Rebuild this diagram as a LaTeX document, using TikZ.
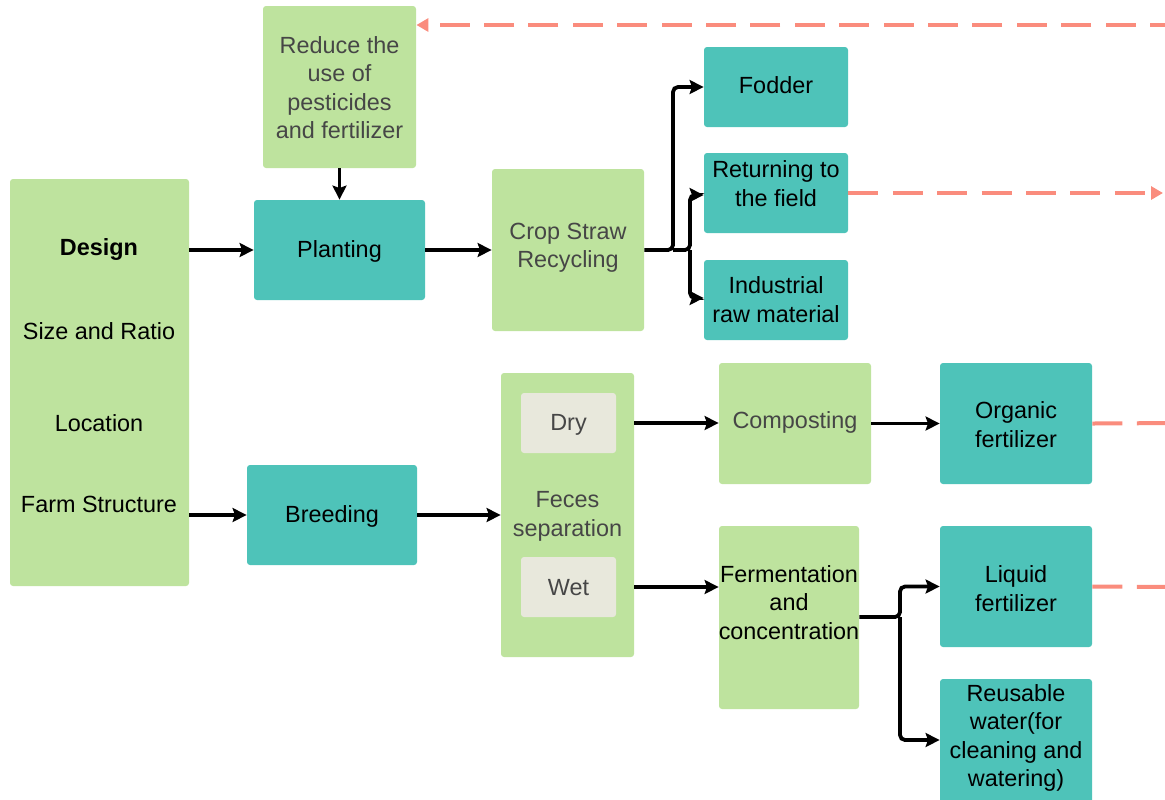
\documentclass[tikz,border=0pt]{standalone}
\usepackage{fontspec}
\setmainfont{Liberation Sans}
\usetikzlibrary{arrows.meta}
\definecolor{leaf}{RGB}{190,227,158}
\definecolor{teal2}{RGB}{78,195,185}
\definecolor{paper}{RGB}{232,232,220}
\definecolor{salmon}{RGB}{250,140,125}
\definecolor{ink}{RGB}{70,70,70}
\begin{document}
\begin{tikzpicture}[x=0.5pt,y=-0.5pt,
  box/.style={rounded corners=1.5pt, inner sep=0pt, draw=none},
  greenbox/.style={box, fill=leaf},
  tealbox/.style={box, fill=teal2},
  innerbox/.style={box, fill=paper},
  lbl/.style={align=center, inner sep=0pt, yshift=-1.25pt, font=\fontsize{11.7}{14.2}\selectfont},
  glbl/.style={lbl, text=ink},
  arr/.style={line width=1.9pt, -{Stealth[length=7pt,width=7pt,inset=1.2pt]}, rounded corners=2.5pt},
  feed/.style={line width=2pt, draw=salmon, dash pattern=on 15pt off 7.2pt,
    -{Triangle[length=6pt,width=6.5pt]}}
]
\useasboundingbox (0,0) rectangle (1165,799);
\clip (0,0) rectangle (1165,799);

% --- boxes ---
\node[greenbox, minimum width=89.5pt, minimum height=203.5pt] (design) at (99.5,382.5) {};
\node[greenbox, minimum width=76.5pt, minimum height=81pt] (reduce) at (339.5,87) {};
\node[tealbox, minimum width=85.5pt, minimum height=50pt] (planting) at (339.5,250) {};
\node[greenbox, minimum width=76pt, minimum height=81pt] (crop) at (568,250) {};
\node[tealbox, minimum width=72pt, minimum height=40pt] (fodder) at (776,87) {};
\node[tealbox, minimum width=72pt, minimum height=40pt] (returning) at (776,193) {};
\node[tealbox, minimum width=72pt, minimum height=40pt] (industrial) at (776,300) {};
\node[tealbox, minimum width=85pt, minimum height=50pt] (breeding) at (332,515) {};
\node[greenbox, minimum width=66.5pt, minimum height=142pt] (feces) at (567.5,515) {};
\node[innerbox, minimum width=47.5pt, minimum height=30pt] (dry) at (568.5,423) {};
\node[innerbox, minimum width=47.5pt, minimum height=30pt] (wet) at (568.5,587) {};
\node[greenbox, minimum width=76pt, minimum height=60.5pt] (composting) at (795,423.5) {};
\node[tealbox, minimum width=76pt, minimum height=60.5pt] (organic) at (1016,423.5) {};
\node[greenbox, minimum width=70pt, minimum height=91.5pt] (ferment) at (789,617.5) {};
\node[tealbox, minimum width=76pt, minimum height=60.5pt] (liquid) at (1016,586.5) {};
\node[tealbox, minimum width=76pt, minimum height=70.5pt] (reusable) at (1016,749.5) {};

% --- texts ---
\node[lbl, font=\fontsize{11.7}{14.2}\selectfont\bfseries] (designT) at (99,247) {Design};
\node[lbl] (sizeT) at (99,329) {Size and Ratio};
\node[lbl] (locT) at (99,421) {Location};
\node[lbl] (farmT) at (99,502) {Farm Structure};
\node[glbl] (reduceT) at (339.5,85) {Reduce the\\use of\\pesticides\\and fertilizer};
\node[lbl] (plantingT) at (339.5,249) {Planting};
\node[glbl] (cropT) at (568,245) {Crop Straw\\Recycling};
\node[lbl] (fodderT) at (776,83) {Fodder};
\node[lbl] (returningT) at (776,181) {Returning to\\the field};
\node[lbl] (industrialT) at (776,297) {Industrial\\raw material};
\node[lbl] (breedingT) at (332,514) {Breeding};
\node[glbl] (dryT) at (568.5,422) {Dry};
\node[glbl] (fecesT) at (567.5,514) {Feces\\separation};
\node[glbl] (wetT) at (568.5,585) {Wet};
\node[glbl] (compostingT) at (795,420) {Composting};
\node[lbl] (organicT) at (1016,422) {Organic\\fertilizer};
\node[lbl] (fermentT) at (789,600) {Fermentation\\and\\concentration};
\node[lbl] (liquidT) at (1016,586) {Liquid\\fertilizer};
\node[lbl] (reusableT) at (1016,735.5) {Reusable\\water(for\\cleaning and\\watering)};

% --- solid flow ---
\draw[arr] (reduce.south) -- (planting.north);
\draw[arr] (planting -| design.east) -- (planting.west);
\draw[arr] (planting.east) -- (crop.west);
\draw[arr] (breeding -| design.east) -- (breeding.west);
\draw[arr] (breeding.east) -- (breeding -| feces.west);

\coordinate (jA) at (673,250);
\coordinate (jB) at (690,250);
\draw[arr] (crop.east) -- (jA) |- (fodder.west);
\draw[arr] (jA) -- (jB) |- ([yshift=-1pt]returning.west);
\draw[arr] (jB) |- ([yshift=1pt]industrial.west);

\draw[arr] (dry -| feces.east) -- (dry -| composting.west);
\draw[arr] (composting.east) -- (organic.west);
\draw[arr] (wet -| feces.east) -- (wet -| ferment.west);

\coordinate (jC) at (900,617);
\draw[arr] (ferment.east |- jC) -- (jC) |- (liquid.west);
\draw[arr] (jC) |- ([yshift=4.75pt]reusable.west);

% --- feedback (dashed) ---
\coordinate (fbTop) at (1180,25);
\coordinate (fbRet) at (1163,193);
\coordinate (fbOrg) at (1180,423);
\coordinate (fbLiq) at (1180,587);
\draw[feed] (fbTop) -- (fbTop -| reduce.east);
\draw[feed] (returning.east) -- (fbRet);
\draw[feed, -] (organic.east) -- (fbOrg);
\draw[feed, -] (liquid.east) -- (fbLiq);
\end{tikzpicture}
\end{document}
